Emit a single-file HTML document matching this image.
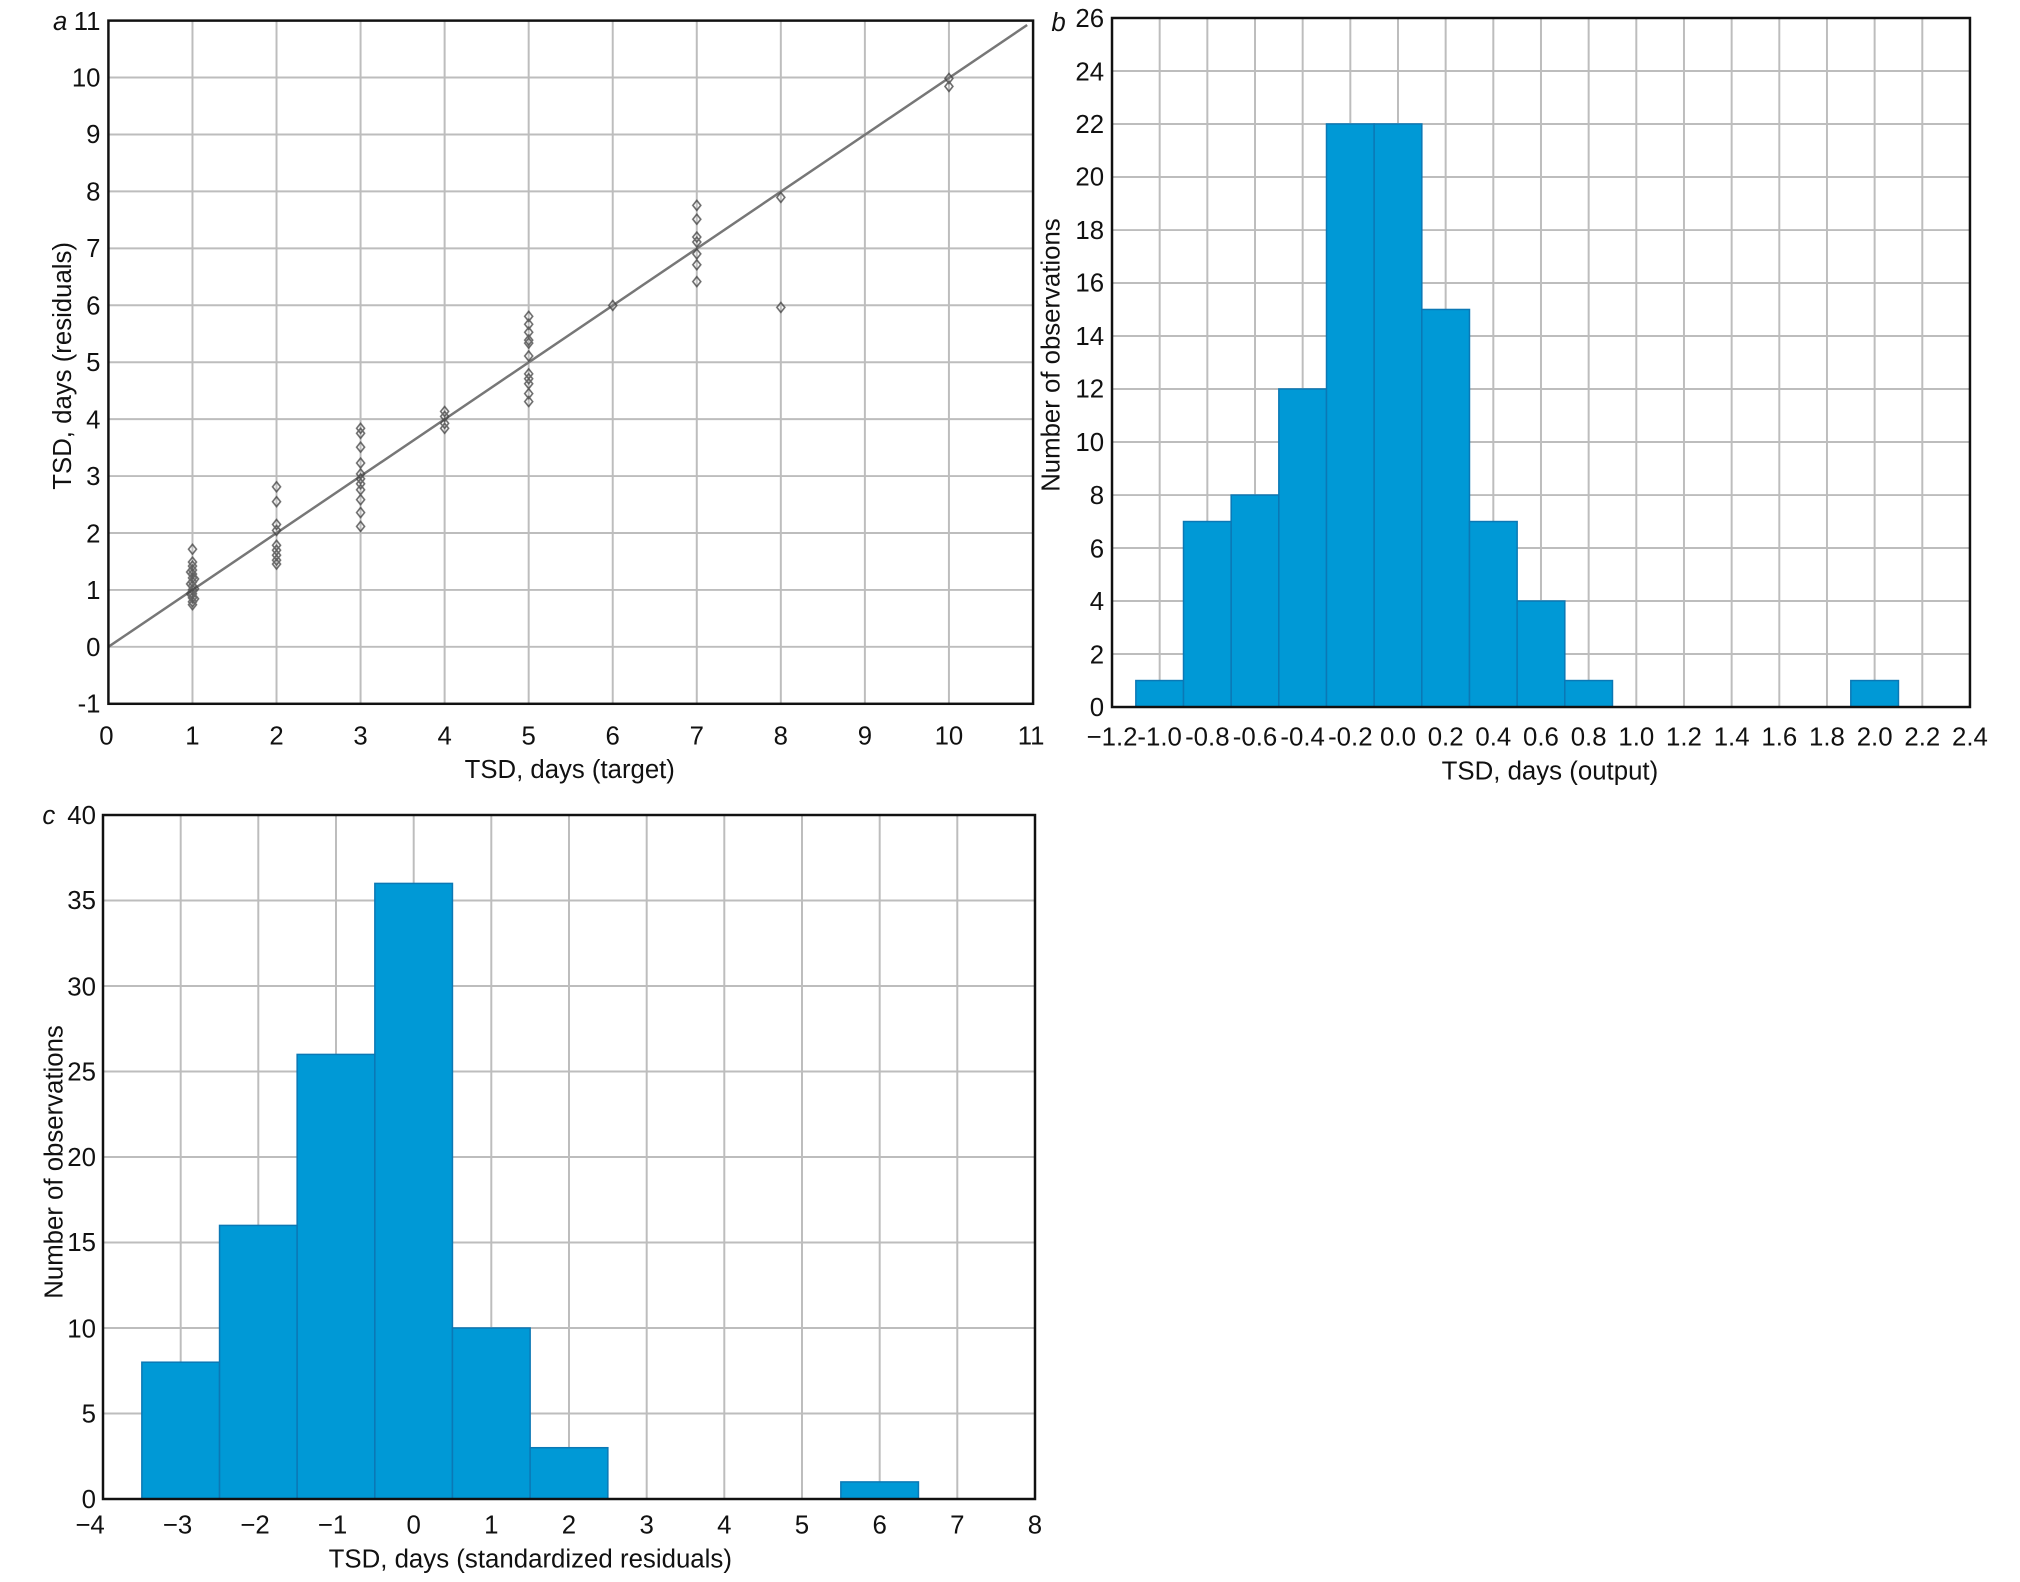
<!DOCTYPE html>
<html><head><meta charset="utf-8"><style>
body{margin:0;background:#fff}
svg text{font-family:"Liberation Sans Narrow","Liberation Sans",sans-serif;fill:#111}
.t{font-size:26px}
.l{font-size:26px}
.g{stroke:#bdbdbd;stroke-width:2}
.bar{fill:#0099d6;stroke:#0b78b5;stroke-width:1.5}
</style></head><body>
<svg width="2020" height="1577" viewBox="0 0 2020 1577" xmlns="http://www.w3.org/2000/svg">
<defs><path id="d" d="M0,-5 L4,0 L0,5 L-4,0 Z" fill="none" stroke="#444" stroke-width="1.6"/></defs>

<!-- Panel a -->
<g transform="translate(1.5,-0.8) scale(0.990,0.991)">
<g class="g">
<line x1="192.9" y1="21.6" x2="192.9" y2="711"/><line x1="277.8" y1="21.6" x2="277.8" y2="711"/><line x1="362.7" y1="21.6" x2="362.7" y2="711"/><line x1="447.6" y1="21.6" x2="447.6" y2="711"/><line x1="532.5" y1="21.6" x2="532.5" y2="711"/><line x1="617.4" y1="21.6" x2="617.4" y2="711"/><line x1="702.3" y1="21.6" x2="702.3" y2="711"/><line x1="787.2" y1="21.6" x2="787.2" y2="711"/><line x1="872.1" y1="21.6" x2="872.1" y2="711"/><line x1="957" y1="21.6" x2="957" y2="711"/>
<line x1="108" y1="653.5" x2="1042" y2="653.5"/><line x1="108" y1="596.1" x2="1042" y2="596.1"/><line x1="108" y1="538.6" x2="1042" y2="538.6"/><line x1="108" y1="481.2" x2="1042" y2="481.2"/><line x1="108" y1="423.7" x2="1042" y2="423.7"/><line x1="108" y1="366.3" x2="1042" y2="366.3"/><line x1="108" y1="308.8" x2="1042" y2="308.8"/><line x1="108" y1="251.4" x2="1042" y2="251.4"/><line x1="108" y1="193.9" x2="1042" y2="193.9"/><line x1="108" y1="136.5" x2="1042" y2="136.5"/><line x1="108" y1="79" x2="1042" y2="79"/>
</g>
<line x1="108" y1="653.5" x2="1036" y2="26" stroke="#777" stroke-width="2.5"/>
<g opacity="0.8">
<use href="#d" x="192.9" y="555"/><use href="#d" x="192.9" y="568"/><use href="#d" x="192.9" y="572"/><use href="#d" x="192.9" y="576"/><use href="#d" x="192.9" y="580"/><use href="#d" x="192.9" y="584"/><use href="#d" x="192.9" y="588"/><use href="#d" x="192.9" y="592"/><use href="#d" x="192.9" y="596"/><use href="#d" x="192.9" y="600"/><use href="#d" x="192.9" y="604"/><use href="#d" x="192.9" y="608"/><use href="#d" x="192.9" y="611"/><use href="#d" x="191" y="590"/><use href="#d" x="195" y="585"/><use href="#d" x="191" y="600"/><use href="#d" x="195" y="605"/><use href="#d" x="191" y="578"/><use href="#d" x="195" y="595"/>
<use href="#d" x="277.8" y="492"/><use href="#d" x="277.8" y="507"/><use href="#d" x="277.8" y="530"/><use href="#d" x="277.8" y="536"/><use href="#d" x="277.8" y="551"/><use href="#d" x="277.8" y="556"/><use href="#d" x="277.8" y="561"/><use href="#d" x="277.8" y="566"/><use href="#d" x="277.8" y="570"/>
<use href="#d" x="362.7" y="433"/><use href="#d" x="362.7" y="438"/><use href="#d" x="362.7" y="452"/><use href="#d" x="362.7" y="468"/><use href="#d" x="362.7" y="479"/><use href="#d" x="362.7" y="484"/><use href="#d" x="362.7" y="489"/><use href="#d" x="362.7" y="495"/><use href="#d" x="362.7" y="505"/><use href="#d" x="362.7" y="518"/><use href="#d" x="362.7" y="532"/>
<use href="#d" x="447.6" y="416"/><use href="#d" x="447.6" y="421"/><use href="#d" x="447.6" y="428"/><use href="#d" x="447.6" y="433"/>
<use href="#d" x="532.5" y="320"/><use href="#d" x="532.5" y="328"/><use href="#d" x="532.5" y="336"/><use href="#d" x="532.5" y="344"/><use href="#d" x="532.5" y="347"/><use href="#d" x="532.5" y="360"/><use href="#d" x="532.5" y="378"/><use href="#d" x="532.5" y="383"/><use href="#d" x="532.5" y="388"/><use href="#d" x="532.5" y="398"/><use href="#d" x="532.5" y="406"/>
<use href="#d" x="617.4" y="309"/>
<use href="#d" x="702.3" y="208"/><use href="#d" x="702.3" y="222"/><use href="#d" x="702.3" y="240"/><use href="#d" x="702.3" y="245"/><use href="#d" x="702.3" y="257"/><use href="#d" x="702.3" y="268"/><use href="#d" x="702.3" y="285"/>
<use href="#d" x="787.2" y="200"/><use href="#d" x="787.2" y="311"/>
<use href="#d" x="957" y="80"/><use href="#d" x="957" y="88"/>
</g>
<rect x="108" y="21.6" width="934" height="689.4" fill="none" stroke="#111" stroke-width="2.5"/>
<g class="t" text-anchor="middle">
<text x="106" y="752">0</text><text x="192.9" y="752">1</text><text x="277.8" y="752">2</text><text x="362.7" y="752">3</text><text x="447.6" y="752">4</text><text x="532.5" y="752">5</text><text x="617.4" y="752">6</text><text x="702.3" y="752">7</text><text x="787.2" y="752">8</text><text x="872.1" y="752">9</text><text x="957" y="752">10</text><text x="1040" y="752">11</text>
</g>
<g class="t" text-anchor="end">
<text x="100" y="720">-1</text><text x="100" y="663">0</text><text x="100" y="605">1</text><text x="100" y="548">2</text><text x="100" y="490">3</text><text x="100" y="433">4</text><text x="100" y="375">5</text><text x="100" y="318">6</text><text x="100" y="260">7</text><text x="100" y="203">8</text><text x="100" y="145">9</text><text x="100" y="88">10</text><text x="100" y="31">11</text>
</g>
<text x="52" y="31" class="t" font-style="italic">a</text>
<text class="l" text-anchor="middle" x="574" y="786">TSD, days (target)</text>
<text class="l" text-anchor="middle" transform="translate(70,370) rotate(-90)">TSD, days (residuals)</text>
</g>

<!-- Panel b -->
<g transform="translate(6.8,0.15) scale(0.993,0.9914)">
<g class="g">
<line x1="1161" y1="18" x2="1161" y2="713"/><line x1="1209" y1="18" x2="1209" y2="713"/><line x1="1257" y1="18" x2="1257" y2="713"/><line x1="1305" y1="18" x2="1305" y2="713"/><line x1="1353" y1="18" x2="1353" y2="713"/><line x1="1401" y1="18" x2="1401" y2="713"/><line x1="1449" y1="18" x2="1449" y2="713"/><line x1="1497" y1="18" x2="1497" y2="713"/><line x1="1545" y1="18" x2="1545" y2="713"/><line x1="1593" y1="18" x2="1593" y2="713"/><line x1="1641" y1="18" x2="1641" y2="713"/><line x1="1689" y1="18" x2="1689" y2="713"/><line x1="1737" y1="18" x2="1737" y2="713"/><line x1="1785" y1="18" x2="1785" y2="713"/><line x1="1833" y1="18" x2="1833" y2="713"/><line x1="1881" y1="18" x2="1881" y2="713"/><line x1="1929" y1="18" x2="1929" y2="713"/>
<line x1="1113" y1="659.5" x2="1977" y2="659.5"/><line x1="1113" y1="606.1" x2="1977" y2="606.1"/><line x1="1113" y1="552.6" x2="1977" y2="552.6"/><line x1="1113" y1="499.2" x2="1977" y2="499.2"/><line x1="1113" y1="445.7" x2="1977" y2="445.7"/><line x1="1113" y1="392.2" x2="1977" y2="392.2"/><line x1="1113" y1="338.8" x2="1977" y2="338.8"/><line x1="1113" y1="285.3" x2="1977" y2="285.3"/><line x1="1113" y1="231.9" x2="1977" y2="231.9"/><line x1="1113" y1="178.4" x2="1977" y2="178.4"/><line x1="1113" y1="124.9" x2="1977" y2="124.9"/><line x1="1113" y1="71.5" x2="1977" y2="71.5"/>
</g>
<rect class="bar" x="1137" y="686.3" width="48" height="26.7"/>
<rect class="bar" x="1185" y="525.9" width="48" height="187.1"/>
<rect class="bar" x="1233" y="499.2" width="48" height="213.8"/>
<rect class="bar" x="1281" y="392.2" width="48" height="320.8"/>
<rect class="bar" x="1329" y="124.9" width="48" height="588.1"/>
<rect class="bar" x="1377" y="124.9" width="48" height="588.1"/>
<rect class="bar" x="1425" y="312" width="48" height="401"/>
<rect class="bar" x="1473" y="525.9" width="48" height="187.1"/>
<rect class="bar" x="1521" y="606.1" width="48" height="106.9"/>
<rect class="bar" x="1569" y="686.3" width="48" height="26.7"/>
<rect class="bar" x="1857" y="686.3" width="48" height="26.7"/>
<rect x="1113" y="18" width="864" height="695" fill="none" stroke="#111" stroke-width="2.5"/>
<g class="t" text-anchor="middle">
<text x="1113" y="752">−1.2</text><text x="1161" y="752">-1.0</text><text x="1209" y="752">-0.8</text><text x="1257" y="752">-0.6</text><text x="1305" y="752">-0.4</text><text x="1353" y="752">-0.2</text><text x="1401" y="752">0.0</text><text x="1449" y="752">0.2</text><text x="1497" y="752">0.4</text><text x="1545" y="752">0.6</text><text x="1593" y="752">0.8</text><text x="1641" y="752">1.0</text><text x="1689" y="752">1.2</text><text x="1737" y="752">1.4</text><text x="1785" y="752">1.6</text><text x="1833" y="752">1.8</text><text x="1881" y="752">2.0</text><text x="1929" y="752">2.2</text><text x="1977" y="752">2.4</text>
</g>
<g class="t" text-anchor="end">
<text x="1105" y="722">0</text><text x="1105" y="669">2</text><text x="1105" y="615">4</text><text x="1105" y="562">6</text><text x="1105" y="508">8</text><text x="1105" y="455">10</text><text x="1105" y="401">12</text><text x="1105" y="348">14</text><text x="1105" y="294">16</text><text x="1105" y="241">18</text><text x="1105" y="187">20</text><text x="1105" y="134">22</text><text x="1105" y="81">24</text><text x="1105" y="27">26</text>
</g>
<text x="1052" y="31" class="t" font-style="italic">b</text>
<text class="l" text-anchor="middle" x="1554" y="786">TSD, days (output)</text>
<text class="l" text-anchor="middle" transform="translate(1060,358) rotate(-90)">Number of observations</text>
</g>

<!-- Panel c -->
<g transform="translate(-1.33,7.1) scale(0.9936,0.9913)">
<g class="g">
<line x1="183.2" y1="815" x2="183.2" y2="1505"/><line x1="261.3" y1="815" x2="261.3" y2="1505"/><line x1="339.5" y1="815" x2="339.5" y2="1505"/><line x1="417.7" y1="815" x2="417.7" y2="1505"/><line x1="495.8" y1="815" x2="495.8" y2="1505"/><line x1="574" y1="815" x2="574" y2="1505"/><line x1="652.2" y1="815" x2="652.2" y2="1505"/><line x1="730.3" y1="815" x2="730.3" y2="1505"/><line x1="808.5" y1="815" x2="808.5" y2="1505"/><line x1="886.7" y1="815" x2="886.7" y2="1505"/><line x1="964.8" y1="815" x2="964.8" y2="1505"/>
<line x1="105" y1="1418.75" x2="1043" y2="1418.75"/><line x1="105" y1="1332.5" x2="1043" y2="1332.5"/><line x1="105" y1="1246.25" x2="1043" y2="1246.25"/><line x1="105" y1="1160" x2="1043" y2="1160"/><line x1="105" y1="1073.75" x2="1043" y2="1073.75"/><line x1="105" y1="987.5" x2="1043" y2="987.5"/><line x1="105" y1="901.25" x2="1043" y2="901.25"/>
</g>
<rect class="bar" x="144.1" y="1367" width="78.2" height="138"/>
<rect class="bar" x="222.3" y="1229" width="78.1" height="276"/>
<rect class="bar" x="300.4" y="1056.5" width="78.2" height="448.5"/>
<rect class="bar" x="378.6" y="884" width="78.1" height="621"/>
<rect class="bar" x="456.7" y="1332.5" width="78.2" height="172.5"/>
<rect class="bar" x="534.9" y="1453.25" width="78.2" height="51.75"/>
<rect class="bar" x="847.6" y="1487.75" width="78.1" height="17.25"/>
<rect x="105" y="815" width="938" height="690" fill="none" stroke="#111" stroke-width="2.5"/>
<g class="t" text-anchor="middle">
<text x="92" y="1540">−4</text><text x="180" y="1540">−3</text><text x="258" y="1540">−2</text><text x="336" y="1540">−1</text><text x="417.7" y="1540">0</text><text x="495.8" y="1540">1</text><text x="574" y="1540">2</text><text x="652.2" y="1540">3</text><text x="730.3" y="1540">4</text><text x="808.5" y="1540">5</text><text x="886.7" y="1540">6</text><text x="964.8" y="1540">7</text><text x="1043" y="1540">8</text>
</g>
<g class="t" text-anchor="end">
<text x="98" y="1514">0</text><text x="98" y="1428">5</text><text x="98" y="1342">10</text><text x="98" y="1255">15</text><text x="98" y="1169">20</text><text x="98" y="1083">25</text><text x="98" y="997">30</text><text x="98" y="910">35</text><text x="98" y="824">40</text>
</g>
<text x="44" y="824" class="t" font-style="italic">c</text>
<text class="l" text-anchor="middle" x="535" y="1574">TSD, days (standardized residuals)</text>
<text class="l" text-anchor="middle" transform="translate(64,1165) rotate(-90)">Number of observations</text>
</g>
</svg>
</body></html>
